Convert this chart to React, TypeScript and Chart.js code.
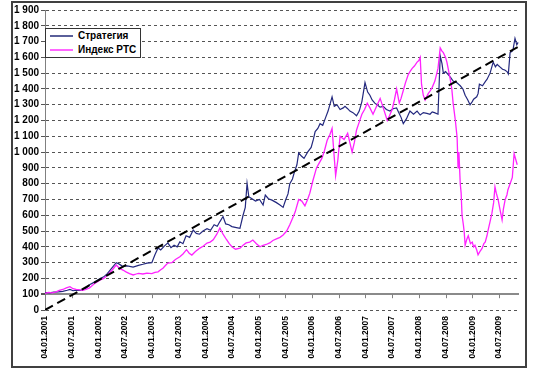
import React, { useEffect, useRef } from "react";
import { Chart, registerables } from "chart.js";

Chart.register(...registerables);

// x values are months elapsed since 04.01.2001
const dateLabels = [
  "04.01.2001", "04.07.2001", "04.01.2002", "04.07.2002", "04.01.2003", "04.07.2003",
  "04.01.2004", "04.07.2004", "04.01.2005", "04.07.2005", "04.01.2006", "04.07.2006",
  "04.01.2007", "04.07.2007", "04.01.2008", "04.07.2008", "04.01.2009", "04.07.2009",
];

const legendLabels = ["Стратегия", "Индекс РТС"];

const strategyPoints: number[][] = [
  [0,110],[1,108],[2,113],[3,115],[4,118],[5,125],[5.6,130],[6.3,122],[7,126],[8,124],[8.5,128],
  [9.3,140],[10,160],[11,175],[12.4,200],[13.2,210],[14,230],[15,265],[16,300],[16.6,292],[17.5,275],
  [18.5,280],[19.8,272],[21,283],[22,290],[22.9,297],[24,300],[24.7,350],[25.4,393],[26,380],[26.8,405],
  [27.6,425],[28.3,395],[29,410],[29.7,400],[30.3,432],[31,420],[31.7,470],[32.5,460],[33.3,506],[34,485],
  [34.7,480],[35.5,500],[36.4,515],[37.2,505],[38,540],[38.7,530],[39.3,560],[40,592],[40.6,545],[41.3,540],
  [42,528],[43,522],[43.8,517],[44.5,600],[45,650],[45.4,802],[45.8,717],[46.5,705],[47.3,690],[48.2,700],
  [49,665],[49.5,728],[50.2,705],[51,696],[52,680],[52.8,665],[53.5,650],[54.1,700],[54.6,735],[55,800],
  [55.6,830],[56,870],[56.6,920],[57,995],[57.6,975],[58.2,960],[59,1000],[59.8,1030],[60.3,1080],[60.7,1130],
  [61.3,1150],[61.8,1180],[62.4,1170],[63,1215],[63.6,1260],[64.5,1350],[65,1290],[65.6,1300],[66.3,1270],
  [67,1280],[67.4,1290],[68,1275],[68.5,1260],[69.2,1250],[70,1230],[70.6,1260],[71.2,1320],[71.9,1440],
  [72.5,1380],[73,1360],[73.5,1330],[74.1,1310],[74.6,1300],[75.3,1285],[76,1290],[76.7,1270],[77.5,1260],
  [78.2,1275],[79,1280],[79.5,1250],[80,1220],[80.5,1180],[81.2,1210],[82,1260],[82.8,1240],[83.6,1260],
  [84.3,1235],[85,1250],[85.8,1245],[86.5,1240],[87,1255],[87.5,1250],[88.3,1240],[88.8,1610],[89.2,1560],
  [89.5,1500],[90,1510],[90.6,1490],[91.2,1470],[91.7,1450],[92.5,1440],[93.3,1420],[93.9,1400],[94.4,1360],
  [95,1330],[95.5,1300],[96,1320],[96.3,1335],[97,1350],[97.3,1370],[97.6,1430],[98.3,1420],[99,1450],
  [99.3,1460],[100,1500],[100.7,1570],[101.2,1540],[101.6,1555],[102.2,1540],[102.8,1525],[103.3,1520],
  [103.8,1510],[104.1,1495],[104.5,1630],[105,1640],[105.2,1655],[105.6,1720],[106,1680],[106.3,1695],
];

const rtsPoints: number[][] = [
  [0,105],[0.8,112],[1.6,108],[2.5,115],[3.2,125],[4,130],[4.8,140],[5.6,148],[6.3,135],[7,130],[7.8,128],
  [8.5,124],[9.2,130],[10,140],[11,165],[12.4,190],[13.2,200],[14,220],[15,250],[16,285],[16.7,265],
  [17.5,253],[18.3,240],[19,230],[19.8,222],[20.5,228],[21,232],[22,228],[22.9,234],[24,230],[24.7,238],
  [25.4,242],[26,255],[26.5,265],[27,280],[27.6,297],[28.5,300],[29.3,320],[30.3,337],[31,355],[31.8,382],
  [32.4,360],[33,348],[33.8,370],[34.8,392],[35.6,405],[36.4,424],[37.1,430],[37.8,445],[38.6,480],[39.3,520],
  [40,480],[40.8,445],[41.4,420],[42,401],[42.8,385],[43.8,392],[44.5,410],[45.2,425],[46,430],[46.7,443],
  [47.5,420],[48.3,400],[49,410],[49.7,415],[50.5,425],[51.2,440],[52,450],[52.8,460],[53.5,475],[54.3,500],
  [55,540],[55.6,580],[56.2,620],[57,700],[57.7,690],[58.4,660],[59,700],[59.5,740],[60.2,820],[61,900],
  [61.6,930],[62.2,960],[62.8,1010],[63.4,1075],[64,1110],[64.5,1150],[64.9,1000],[65.3,850],[65.8,950],
  [66.3,1100],[67.2,1080],[68,1120],[68.5,1060],[69,1000],[69.5,1060],[70,1140],[70.6,1190],[71.2,1240],
  [71.8,1270],[72.4,1310],[73,1280],[73.7,1240],[74.5,1290],[75.3,1340],[76,1280],[76.9,1200],[77.4,1230],
  [78,1270],[78.5,1330],[79,1400],[79.6,1310],[80,1340],[80.5,1390],[81,1440],[81.6,1490],[82,1510],
  [82.5,1530],[83,1545],[83.6,1570],[84,1580],[84.3,1600],[84.6,1430],[85,1360],[85.4,1330],[86.1,1370],
  [86.6,1390],[87,1410],[87.6,1450],[88.3,1530],[88.8,1660],[89.2,1640],[89.5,1630],[90,1600],[90.3,1570],
  [91,1470],[91.4,1400],[91.7,1310],[92.2,1200],[92.6,1090],[92.8,900],[93,1000],[93.3,800],[93.5,740],
  [93.7,600],[94,540],[94.2,490],[94.4,410],[94.8,450],[95.1,470],[95.6,420],[96,430],[96.3,400],[96.6,410],
  [97,380],[97.3,350],[97.7,370],[98.2,390],[98.6,420],[98.9,430],[99.3,470],[99.6,510],[100,560],[100.4,610],
  [100.8,680],[101.1,780],[101.4,740],[101.8,700],[102.2,640],[102.7,570],[103,640],[103.4,700],[103.8,730],
  [104,760],[104.5,800],[105,840],[105.4,990],[105.8,950],[106.1,920],
];

const trendPoints: number[][] = [[0, 0], [106.2, 1665]];

const yMin = 0;
const yMax = 1900;
const yStep = 100;
const axisCrossValue = 100;
const monthsPerLabel = 6;
const xMax = 106.5;

const FONT = "'Liberation Sans', Arial, sans-serif";

function fmtThousands(v: number): string {
  if (v >= 1000) {
    const th = Math.floor(v / 1000);
    const rest = String(v % 1000).padStart(3, "0");
    return th + " " + rest;
  }
  return String(v);
}

export default function App() {
  const ref = useRef<HTMLCanvasElement>(null);

  useEffect(() => {
    if (!ref.current) return;
    const toPts = (arr: number[][]) => arr.map(([x, y]) => ({ x, y }));

    const axisPlugin = {
      id: "crossAxis",
      beforeDatasetsDraw(chart: any) {
        const { ctx, scales } = chart;
        const xs = scales.x;
        const ys = scales.y;
        const py = ys.getPixelForValue(axisCrossValue);
        ctx.save();
        ctx.strokeStyle = "#808080";
        ctx.lineWidth = 1;
        xs.ticks.forEach((t: any) => {
          const px = Math.round(xs.getPixelForValue(t.value)) + 0.5;
          ctx.beginPath();
          ctx.moveTo(px, py);
          ctx.lineTo(px, py + 4);
          ctx.stroke();
        });
        ctx.restore();
      },
    };

    const chart = new Chart(ref.current, {
      type: "line",
      data: {
        datasets: [
          {
            label: "trend",
            data: toPts(trendPoints),
            borderColor: "#000000",
            borderWidth: 2,
            borderDash: [9, 5],
            pointRadius: 0,
            tension: 0,
            order: 0,
          },
          {
            label: legendLabels[1],
            data: toPts(rtsPoints),
            borderColor: "#ff22ff",
            borderWidth: 1.3,
            pointRadius: 0,
            tension: 0,
            order: 1,
          },
          {
            label: legendLabels[0],
            data: toPts(strategyPoints),
            borderColor: "#23287e",
            borderWidth: 1.2,
            pointRadius: 0,
            tension: 0,
            order: 2,
          },
        ],
      },
      options: {
        animation: false,
        responsive: false,
        layout: { padding: { top: 8, right: 7, left: 0, bottom: 0 } },
        plugins: {
          legend: { display: false },
          tooltip: { enabled: false },
        },
        scales: {
          x: {
            type: "linear",
            min: 0,
            max: xMax,
            afterBuildTicks: (s: any) => {
              s.ticks = dateLabels.map((_, i) => ({ value: i * monthsPerLabel }));
            },
            afterFit: (s: any) => {
              s.height = 56;
            },
            grid: { display: false, drawTicks: false },
            border: { display: false },
            ticks: {
              autoSkip: false,
              maxRotation: 90,
              minRotation: 90,
              padding: 6,
              color: "#000",
              font: { family: FONT, size: 8.5, weight: "bold" },
              callback: (_v: any, i: number) => dateLabels[i],
            },
          },
          y: {
            min: yMin,
            max: yMax,
            afterFit: (s: any) => {
              s.width = 33;
            },
            grid: {
              color: (c: any) => (c.tick && c.tick.value === axisCrossValue ? "#8a8a8a" : "#555555"),
              lineWidth: (c: any) => (c.tick && c.tick.value === axisCrossValue ? 2 : 1),
              tickLength: 4,
              tickColor: "#555555",
              tickBorderDash: [],
            },
            border: {
              display: true,
              color: "#808080",
              width: 1,
              dash: (c: any) => (c.tick && c.tick.value === axisCrossValue ? [] : [3, 3]),
            },
            ticks: {
              stepSize: yStep,
              padding: 2,
              color: "#000",
              font: { family: FONT, size: 10, weight: "bold" },
              callback: (v: any) => fmtThousands(Number(v)),
            },
          },
        },
      } as any,
      plugins: [axisPlugin],
    });
    return () => chart.destroy();
  }, []);

  const legendRow = (color: string, text: string, top: number) => (
    <div style={{ position: "absolute", left: 0, top, height: 14, width: "100%" }}>
      <div
        style={{
          position: "absolute",
          left: 4,
          top: 6,
          width: 23,
          height: 2,
          background: color,
        }}
      />
      <div
        style={{
          position: "absolute",
          left: 32,
          top: 0,
          lineHeight: "14px",
          fontFamily: FONT,
          fontWeight: "bold",
          fontSize: 10,
          color: "#000",
          whiteSpace: "nowrap",
        }}
      >
        {text}
      </div>
    </div>
  );

  return (
    <div style={{ position: "fixed", left: 0, top: 0, width: 540, height: 370, background: "#fff" }}>
      <canvas
        ref={ref}
        width={514}
        height={364}
        style={{ position: "absolute", left: 12, top: 2, width: 514, height: 364 }}
      />
      <div
        style={{
          position: "absolute",
          left: 45,
          top: 28,
          width: 96,
          height: 30,
          boxSizing: "border-box",
          border: "1px solid #333",
          background: "#fff",
        }}
      >
        {legendRow("#5a5f9a", legendLabels[0], 0)}
        {legendRow("#ff66ff", legendLabels[1], 14)}
      </div>
      <div
        style={{
          position: "absolute",
          left: 11,
          top: 1,
          width: 516,
          height: 367,
          boxSizing: "border-box",
          border: "2px solid #404040",
          pointerEvents: "none",
        }}
      />
    </div>
  );
}
